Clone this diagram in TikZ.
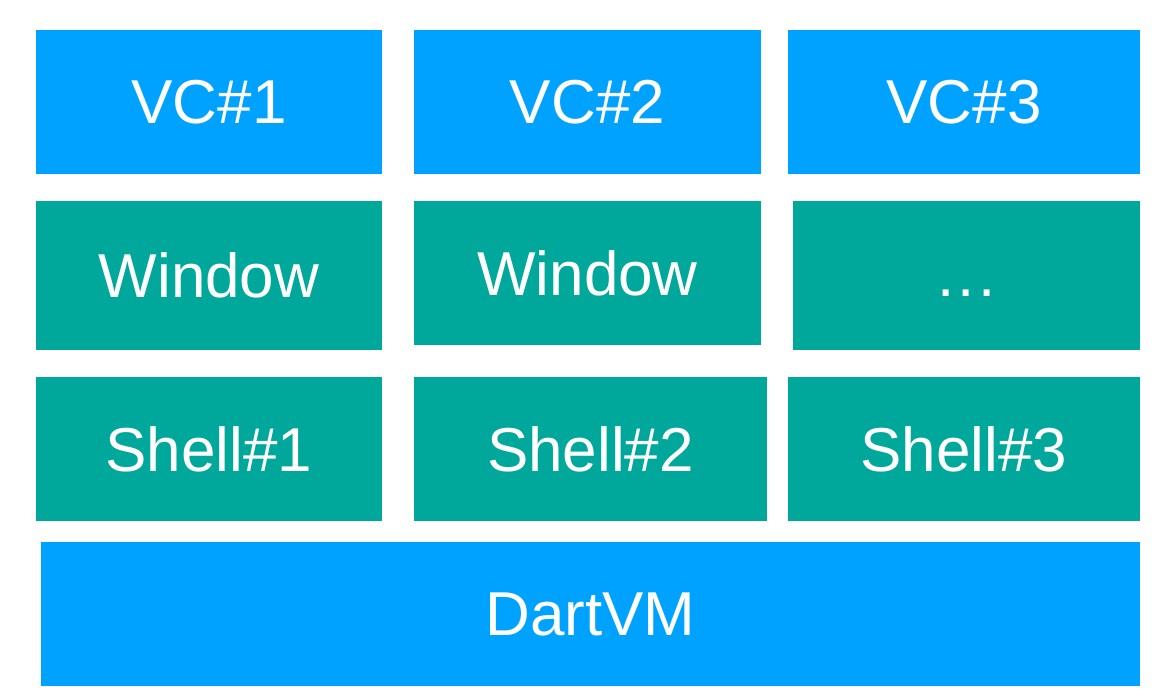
\documentclass[tikz,border=0pt]{standalone}
\usepackage{fontspec}
\setmainfont{Liberation Sans}
\definecolor{vblue}{HTML}{00A2FF}
\definecolor{vteal}{HTML}{00A89C}
\begin{document}
\begin{tikzpicture}[x=1pt,y=-1pt,
  cell/.style={anchor=north west, inner sep=0pt, outer sep=0pt, text=white,
    font=\fontsize{62}{70}\selectfont},
  bluecell/.style={cell, fill=vblue},
  tealcell/.style={cell, fill=vteal}]
\useasboundingbox (0,0) rectangle (1154,693);
% row 1
\node[bluecell, minimum width=346pt, minimum height=144pt] (vc1) at (36,30) {VC\#1};
\node[bluecell, minimum width=347pt, minimum height=144pt] (vc2) at (414,30) {VC\#2};
\node[bluecell, minimum width=352pt, minimum height=144pt] (vc3) at (788,30) {VC\#3};
% row 2
\node[tealcell, minimum width=346pt, minimum height=149pt] (win1) at (36,201) {Window};
\node[tealcell, minimum width=347pt, minimum height=144pt] (win2) at (414,201) {Window};
\node[tealcell, minimum width=347pt, minimum height=149pt] (win3) at (793,201) {\vphantom{W}.\kern3pt.\kern3pt.};
% row 3
\node[tealcell, minimum width=346pt, minimum height=144pt] (sh1) at (36,377) {Shell\#1};
\node[tealcell, minimum width=353pt, minimum height=144pt] (sh2) at (414,377) {Shell\#2};
\node[tealcell, minimum width=352pt, minimum height=144pt] (sh3) at (788,377) {Shell\#3};
% row 4
\node[bluecell, minimum width=1099pt, minimum height=144pt] (vm) at (41,542) {DartVM};
\end{tikzpicture}
\end{document}
